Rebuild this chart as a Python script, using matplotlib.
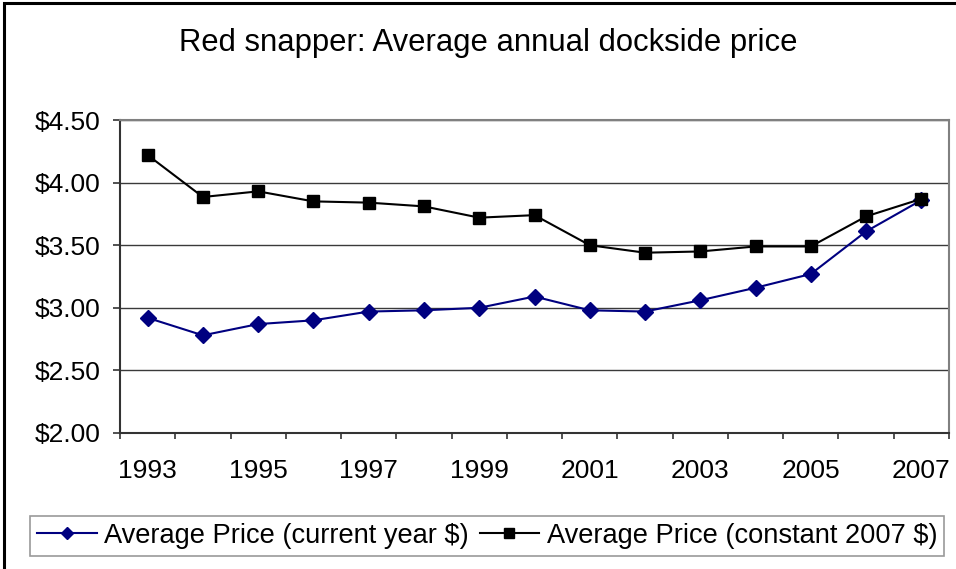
import matplotlib
matplotlib.use("Agg")
import matplotlib.pyplot as plt
from matplotlib.patches import Rectangle
from matplotlib.ticker import FixedLocator, FuncFormatter

years = [1993, 1994, 1995, 1996, 1997, 1998, 1999, 2000,
         2001, 2002, 2003, 2004, 2005, 2006, 2007]
current_price = [2.92, 2.78, 2.87, 2.90, 2.97, 2.98, 3.00, 3.09,
                 2.98, 2.97, 3.06, 3.16, 3.27, 3.61, 3.86]
constant_price = [4.22, 3.885, 3.93, 3.85, 3.84, 3.81, 3.72, 3.74,
                  3.50, 3.44, 3.45, 3.49, 3.49, 3.73, 3.87]
y_ticks = [2.0, 2.5, 3.0, 3.5, 4.0, 4.5]

W, H = 956, 569
fig = plt.figure(figsize=(W / 100, H / 100), dpi=100)
plt.rcParams["font.family"] = ["Liberation Sans", "DejaVu Sans"]

# outer chart frame
fig.patches.append(Rectangle((4 / W, -0.05), 1.1, 1 - 3 / H + 0.05,
                             transform=fig.transFigure, fill=False,
                             edgecolor="black", linewidth=2.2))

left, right, top, bottom = 120, 949, 120, 433
ax = fig.add_axes([left / W, 1 - bottom / H, (right - left) / W, (bottom - top) / H])

x = list(range(len(years)))
ax.plot(x, current_price, color="#000080", marker="D", markersize=8,
        linewidth=1.5, label="Average Price (current year $)", zorder=3)
ax.plot(x, constant_price, color="black", marker="s", markersize=8.5,
        linewidth=1.5, label="Average Price (constant 2007 $)", zorder=4)

ax.set_xlim(-0.5, len(years) - 0.5)
ax.set_ylim(2.0, 4.5)
ax.set_yticks(y_ticks)
ax.yaxis.set_major_formatter(FuncFormatter(lambda v, p: f"${v:.2f}"))
ax.grid(axis="y", color="#3a3a3a", linewidth=1.0)
ax.set_axisbelow(True)

# year labels on every other category, tick marks between categories
label_idx = [i for i, yr in enumerate(years) if yr % 2 == 1]
ax.xaxis.set_major_locator(FixedLocator(label_idx))
ax.set_xticklabels([str(years[i]) for i in label_idx])
ax.xaxis.set_minor_locator(FixedLocator([i - 0.5 for i in range(len(years) + 1)]))
ax.tick_params(axis="x", which="major", length=0, pad=19, labelsize=19)
ax.tick_params(axis="x", which="minor", length=4, width=1.2, color="#333333", direction="out")
ax.tick_params(axis="y", length=5, width=1.2, color="#333333", pad=9, labelsize=19)

for s in ("left", "bottom"):
    ax.spines[s].set_color("#333333")
    ax.spines[s].set_linewidth(1.5)
for s in ("top", "right"):
    ax.spines[s].set_color("#808080")
    ax.spines[s].set_linewidth(1.5)

fig.text(488 / W, 1 - 43 / H, "Red snapper: Average annual dockside price",
         ha="center", va="center", fontsize=22.3)

leg = fig.legend(loc="center", bbox_to_anchor=(487 / W, 1 - 536 / H), ncol=2,
                 fontsize=19.6, frameon=True, fancybox=False, handlelength=2.2,
                 handletextpad=0.27, columnspacing=0.4, borderpad=0.25,
                 borderaxespad=0, markerscale=0.8)
leg.get_frame().set_edgecolor("#808080")
leg.get_frame().set_linewidth(1.2)

fig.savefig("out.png", dpi=100)
